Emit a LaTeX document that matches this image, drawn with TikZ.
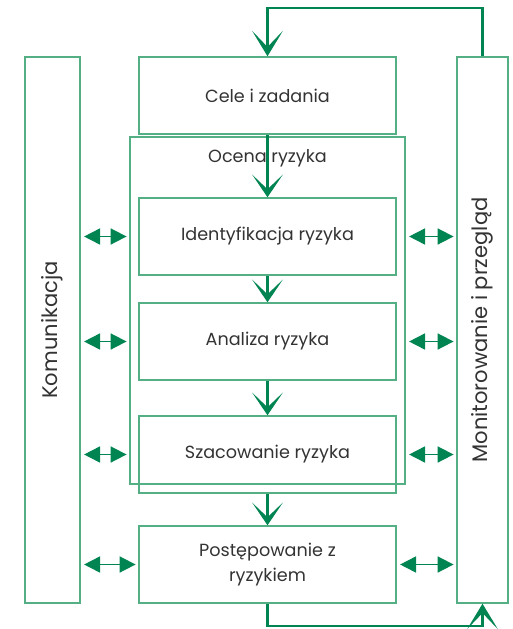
\documentclass[tikz,border=0pt]{standalone}
\usepackage{fontspec}
\setmainfont{Poppins}
\usetikzlibrary{arrows.meta}

\definecolor{ramka}{RGB}{84,176,132}
\definecolor{strzalka}{RGB}{0,133,82}
\definecolor{tekst}{RGB}{51,51,51}

\tikzset{
	krok/.style={draw=ramka, line width=1.1pt, minimum width=192.75pt, minimum height=57.75pt, inner sep=0pt, align=center, text=tekst, font=\fontsize{13.2}{18.5}\selectfont},
	bok/.style={draw=ramka, line width=1.1pt, rotate=90, minimum width=409.5pt, inner sep=0pt, text=tekst, font=\fontsize{15.8}{18}\selectfont},
	dalej/.style={draw=strzalka, line width=2.6pt, -{Stealth[length=17pt, width=23pt, inset=11pt]}},
	obieg/.style={draw=strzalka, line width=1.7pt, -{Stealth[length=19pt, width=23pt, inset=12pt]}},
	wymiana/.style={draw=strzalka, line width=1.3pt, {Triangle[length=12pt, width=12pt]}-{Triangle[length=12pt, width=12pt]}, shorten <=2.5pt, shorten >=2pt}
}

\begin{document}
\begin{tikzpicture}[x=0.75pt, y=-0.75pt]
	\useasboundingbox (0,0) rectangle (513,629);

	\node[bok, minimum height=41.25pt] (komun) at (52.5,330) {Komunikacja};
	\node[bok, minimum height=38.25pt] (monit) at (482.5,330) {Monitorowanie i przegląd};

	\node[draw=ramka, line width=1.1pt, minimum width=206.25pt, minimum height=260.25pt, inner sep=0pt] (ocena) at (267.5,310.5) {};
	\node[text=tekst, font=\fontsize{13.2}{16}\selectfont] (ocenatxt) at (267.5,158) {Ocena ryzyka};

	\node[krok] (cele) at (267.5,95.5) {Cele i zadania};
	\node[krok] (ident) at (267.5,236.5) {Identyfikacja ryzyka};
	\node[krok] (analiza) at (267.5,341.5) {Analiza ryzyka};
	\node[krok] (szac) at (267.5,454.5) {Szacowanie ryzyka};
	\node[krok] (postep) at (267.5,564.5) {Postępowanie z\\ryzykiem};

	\coordinate (gora) at (0,8);
	\coordinate (dol) at (0,626);

	% kolejne kroki
	\draw[dalej] (cele) -- (ident);
	\draw[dalej] (ident) -- (analiza);
	\draw[dalej] (analiza) -- (szac);
	\draw[dalej] (szac) -- (postep);

	% petla monitorowania
	\draw[obieg] (monit.east) -- (monit.east |- gora) -| (cele.north);
	\draw[obieg] (postep.south) |- (monit.west |- dol) -- (monit.west);

	% komunikacja
	\draw[wymiana] (komun.south |- ident) -- (ocena.west |- ident);
	\draw[wymiana] (komun.south |- analiza) -- (ocena.west |- analiza);
	\draw[wymiana] (komun.south |- szac) -- (ocena.west |- szac);
	\draw[wymiana] (komun.south |- postep) -- (postep.west);

	% monitorowanie
	\draw[wymiana] (ocena.east |- ident) -- (monit.north |- ident);
	\draw[wymiana] (ocena.east |- analiza) -- (monit.north |- analiza);
	\draw[wymiana] (ocena.east |- szac) -- (monit.north |- szac);
	\draw[wymiana] (postep.east) -- (monit.north |- postep);
\end{tikzpicture}
\end{document}
